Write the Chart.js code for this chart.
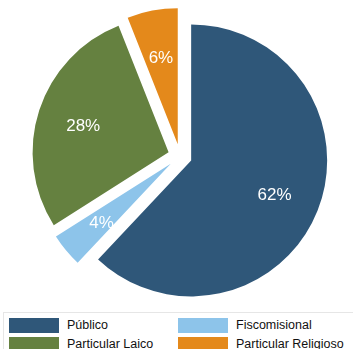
<!DOCTYPE html>
<html>
<head>
<meta charset="utf-8">
<script src="https://cdn.jsdelivr.net/npm/chart.js@4/dist/chart.umd.min.js"></script>
<style>
  html, body { margin: 0; padding: 0; background: #ffffff; }
  #wrap { position: relative; width: 353px; height: 349px; overflow: hidden; font-family: "Liberation Sans", Arial, sans-serif; }
  #chartBox { position: absolute; left: 0; top: 0; width: 353px; height: 310px; }
  #legend {
    position: absolute; left: 3px; top: 312px; width: 360px; height: 60px;
    border: 1px solid #e6e6e6; box-sizing: border-box;
  }
  .item { position: absolute; height: 15px; font-size: 12.5px; color: #111; line-height: 15px; white-space: nowrap; }
  .swatch { position: absolute; left: 0; top: 0; width: 50px; height: 15px; }
  .lbl { position: absolute; left: 58px; top: 0; }
</style>
</head>
<body>
<div id="wrap">
  <div id="chartBox"><canvas id="c"></canvas></div>
  <div id="legend"></div>
</div>
<script>
// School funding type shares (%)
const categories = ["Público", "Fiscomisional", "Particular Laico", "Particular Religioso"];
const shares = [62, 4, 28, 6];
const colors = ["#2f5779", "#8dc4ea", "#658140", "#e4891b"];

// Slices are pulled apart from the centre by this many pixels
const EXPLODE = 12;

const explodePlugin = {
  id: 'explode',
  afterDatasetUpdate(chart, args) {
    args.meta.data.forEach(arc => {
      const mid = (arc.startAngle + arc.endAngle) / 2;
      arc.x += Math.cos(mid) * EXPLODE;
      arc.y += Math.sin(mid) * EXPLODE;
    });
  }
};

// Percentage text inside each slice
const percentLabels = {
  id: 'percentLabels',
  afterDatasetsDraw(chart) {
    const ctx = chart.ctx;
    const meta = chart.getDatasetMeta(0);
    const data = chart.data.datasets[0].data;
    ctx.save();
    ctx.fillStyle = '#ffffff';
    ctx.font = '17px "Liberation Sans", Arial, sans-serif';
    ctx.textAlign = 'center';
    ctx.textBaseline = 'middle';
    meta.data.forEach((arc, i) => {
      const mid = (arc.startAngle + arc.endAngle) / 2;
      const r = arc.outerRadius * 0.66;
      ctx.fillText(data[i] + '%', arc.x + Math.cos(mid) * r, arc.y + Math.sin(mid) * r + 2);
    });
    ctx.restore();
  }
};

new Chart(document.getElementById('c'), {
  type: 'pie',
  data: {
    labels: categories,
    datasets: [{
      data: shares,
      backgroundColor: colors,
      borderWidth: 0,
      radius: 136
    }]
  },
  options: {
    responsive: true,
    maintainAspectRatio: false,
    animation: false,
    layout: { padding: { left: 7, top: 2, right: 0, bottom: 0 } },
    plugins: {
      legend: { display: false },
      tooltip: { enabled: false }
    }
  },
  plugins: [explodePlugin, percentLabels]
});

// Two-column legend under the pie
const legend = document.getElementById('legend');
const colX = [5, 174];
const rowY = [5, 24];
categories.forEach((name, i) => {
  const col = i % 2, row = Math.floor(i / 2);
  const item = document.createElement('div');
  item.className = 'item';
  item.style.left = colX[col] + 'px';
  item.style.top = rowY[row] + 'px';
  const sw = document.createElement('div');
  sw.className = 'swatch';
  sw.style.background = colors[i];
  const tx = document.createElement('div');
  tx.className = 'lbl';
  tx.textContent = name;
  item.appendChild(sw);
  item.appendChild(tx);
  legend.appendChild(item);
});
</script>
</body>
</html>
